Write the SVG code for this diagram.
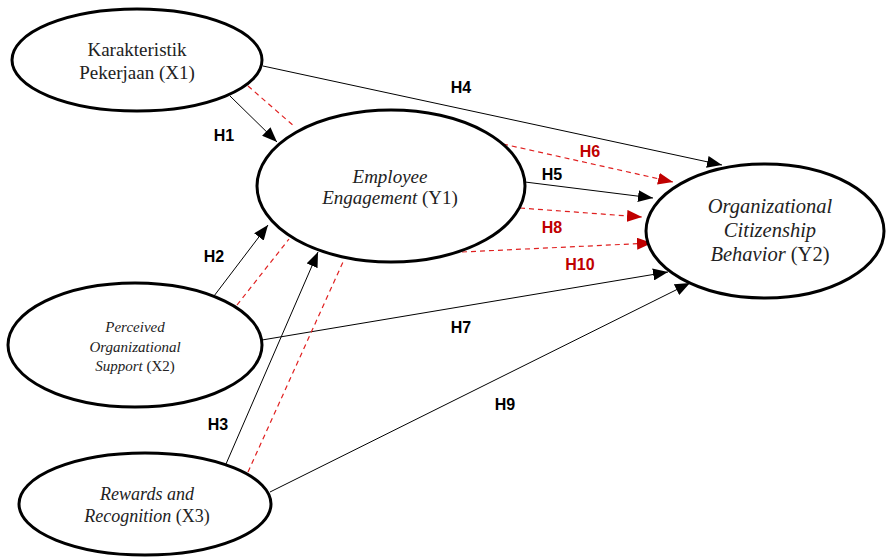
<svg xmlns="http://www.w3.org/2000/svg" width="887" height="557" viewBox="0 0 887 557">
<style>
.node ellipse{fill:#fff;stroke:#000;stroke-width:3}
.t{font-family:"Liberation Serif",serif;fill:#222;text-anchor:middle}
.i{font-style:italic}
.ln{stroke:#000;stroke-width:1;fill:none}
.rd{stroke:#e02020;stroke-width:1.2;fill:none;stroke-dasharray:5,4}
.lb{font-family:"Liberation Sans",Arial,sans-serif;font-weight:bold;font-size:16px;text-anchor:middle;fill:#000}
.lr{fill:#c00000}
</style>
<defs>
<marker id="ab" markerUnits="userSpaceOnUse" markerWidth="16" markerHeight="12" refX="15" refY="6" orient="auto"><path d="M0,0 L15,6 L0,12 Z" fill="#000"/></marker>
<marker id="ar" markerUnits="userSpaceOnUse" markerWidth="16" markerHeight="12" refX="15" refY="6" orient="auto"><path d="M0,0 L15,6 L0,12 Z" fill="#c00000"/></marker>
</defs>
<g id="connectors">
<line class="ln" x1="230" y1="96" x2="277" y2="142" marker-end="url(#ab)"/>
<line class="rd" x1="248" y1="86" x2="295" y2="127"/>
<line class="ln" x1="263" y1="66" x2="722" y2="165" marker-end="url(#ab)"/>
<line class="ln" x1="525" y1="182" x2="653" y2="198" marker-end="url(#ab)"/>
<line class="rd" x1="503" y1="144" x2="673" y2="182" marker-end="url(#ar)"/>
<line class="rd" x1="520" y1="208" x2="642" y2="217" marker-end="url(#ar)"/>
<line class="rd" x1="462" y1="252" x2="652" y2="243" marker-end="url(#ar)"/>
<line class="ln" x1="262" y1="340" x2="668" y2="272" marker-end="url(#ab)"/>
<line class="ln" x1="270" y1="492" x2="690" y2="283" marker-end="url(#ab)"/>
<line class="ln" x1="214" y1="296" x2="268" y2="225" marker-end="url(#ab)"/>
<line class="rd" x1="237" y1="305" x2="289" y2="239"/>
<line class="ln" x1="226" y1="464" x2="318" y2="252" marker-end="url(#ab)"/>
<line class="rd" x1="248" y1="472" x2="343" y2="262"/>
<text class="lb" x="224" y="141">H1</text>
<text class="lb" x="461" y="93">H4</text>
<text class="lb lr" x="590" y="157">H6</text>
<text class="lb" x="552" y="180">H5</text>
<text class="lb lr" x="552" y="233">H8</text>
<text class="lb lr" x="580" y="270">H10</text>
<text class="lb" x="214" y="262">H2</text>
<text class="lb" x="461" y="333">H7</text>
<text class="lb" x="218" y="430">H3</text>
<text class="lb" x="505" y="410">H9</text>
</g>
<g id="X1" class="node">
<ellipse cx="137" cy="60" rx="125" ry="51"/>
<text class="t" x="137" y="56" font-size="19">Karakteristik</text>
<text class="t" x="137" y="79" font-size="19">Pekerjaan (X1)</text>
</g>
<g id="Y1" class="node">
<ellipse cx="391" cy="186" rx="134" ry="76"/>
<text class="t i" x="390" y="183" font-size="19">Employee</text>
<text class="t" x="390" y="204" font-size="19"><tspan class="i">Engagement</tspan> (Y1)</text>
</g>
<g id="Y2" class="node">
<ellipse cx="765" cy="231" rx="119" ry="67"/>
<text class="t i" x="770" y="213" font-size="20.5">Organizational</text>
<text class="t i" x="770" y="237" font-size="20.5">Citizenship</text>
<text class="t" x="770" y="261" font-size="20.5"><tspan class="i">Behavior</tspan> (Y2)</text>
</g>
<g id="X2" class="node">
<ellipse cx="135" cy="345" rx="127" ry="62"/>
<text class="t i" x="135" y="332" font-size="15">Perceived</text>
<text class="t i" x="135" y="352" font-size="15">Organizational</text>
<text class="t" x="135" y="371" font-size="15"><tspan class="i">Support</tspan> (X2)</text>
</g>
<g id="X3" class="node">
<ellipse cx="145" cy="504" rx="126" ry="51"/>
<text class="t i" x="147" y="500" font-size="18">Rewards and</text>
<text class="t" x="147" y="522" font-size="18"><tspan class="i">Recognition</tspan> (X3)</text>
</g>
</svg>
